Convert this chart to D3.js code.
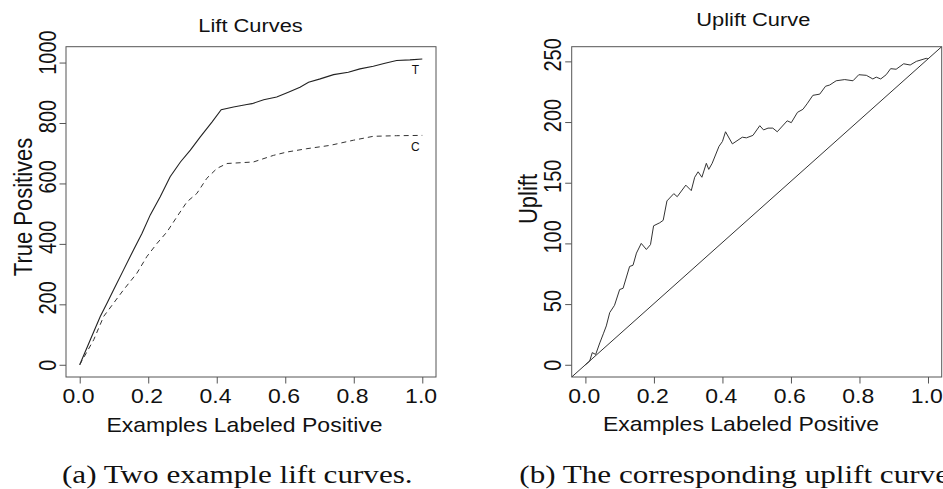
<!DOCTYPE html>
<html>
<head>
<meta charset="utf-8">
<script src="https://cdn.jsdelivr.net/npm/d3@7"></script>
<style>
  body { margin: 0; background: #fff; }
  svg { display: block; }
</style>
</head>
<body>
<svg width="943" height="489"></svg>
<script>
// tick values
var xTicks = [0, 0.2, 0.4, 0.6, 0.8, 1.0];
var liftTicks = [0, 200, 400, 600, 800, 1000];
var upliftTicks = [0, 50, 100, 150, 200, 250];

// lift curve, treatment group (fraction labeled positive, true positives)
var liftT = [[0,0],[0.031,83],[0.06,160],[0.08,204],[0.099,248],[0.128,314],[0.157,380],
  [0.182,435],[0.206,496],[0.235,556],[0.264,622],[0.294,671],[0.323,710],[0.352,754],
  [0.386,803],[0.413,844],[0.449,853],[0.488,861],[0.503,864],[0.537,877],[0.575,886],
  [0.609,902],[0.643,918],[0.668,935],[0.702,946],[0.741,960],[0.784,968],[0.818,979],
  [0.857,988],[0.891,998],[0.925,1007],[0.964,1009],[1.0,1012]];

// lift curve, control group
var liftC = [[0,0],[0.041,83],[0.07,160],[0.099,204],[0.128,248],[0.167,303],[0.196,358],
  [0.226,402],[0.255,440],[0.284,490],[0.313,539],[0.342,567],[0.371,617],[0.401,650],
  [0.43,666],[0.507,671],[0.566,693],[0.605,704],[0.663,715],[0.731,726],[0.799,743],
  [0.857,756],[0.925,758],[1.0,759]];

// uplift curve
var uplift = [[0,0],[0.0125,3],[0.02,10],[0.03,8.5],[0.042,18],[0.053,26],[0.061,32],
  [0.071,43],[0.085,49],[0.1,62],[0.11,63],[0.129,81],[0.139,82],[0.149,92],[0.163,100],
  [0.178,95],[0.19,99],[0.199,114.5],[0.217,117],[0.227,119],[0.238,135],[0.258,141],
  [0.268,138.5],[0.293,148],[0.309,143.5],[0.319,154.5],[0.329,159],[0.34,154.5],
  [0.353,166],[0.36,161],[0.37,166],[0.39,180],[0.4,184],[0.409,192],[0.429,182],
  [0.458,187.5],[0.47,187],[0.489,189],[0.509,197],[0.52,193.5],[0.533,195],[0.547,195],
  [0.56,192],[0.589,201],[0.601,199.5],[0.619,208],[0.635,210.5],[0.647,215],[0.664,222],
  [0.684,223],[0.701,229.5],[0.713,230.5],[0.732,234],[0.757,235],[0.781,234],[0.798,239],
  [0.82,238.5],[0.839,235.5],[0.849,237],[0.862,235.5],[0.878,239],[0.891,244],
  [0.907,243.5],[0.929,248],[0.948,247],[0.966,250],[0.995,252.5],[1.0,252]];

var font = "'Liberation Sans', Arial, Helvetica, sans-serif";
var sx = 1.15;   // figure was squashed/stretched sideways
var boxTop = 46.7, boxBottom = 377;

var svg = d3.select("svg");

// R style: axis limits padded by 4%
function padded(lo, hi) {
  var r = hi - lo;
  return [lo - 0.04 * r, hi + 0.04 * r];
}

var x1 = d3.scaleLinear().domain(padded(0, 1)).range([66, 436]),
    y1 = d3.scaleLinear().domain(padded(0, d3.max(liftT, function(d) { return d[1]; }))).range([boxBottom, boxTop]);
var x2 = d3.scaleLinear().domain(padded(0, 1)).range([571.7, 941.7]),
    y2 = d3.scaleLinear().domain(padded(0, uplift[uplift.length - 1][1])).range([boxBottom, boxTop]);

function drawAxes(x, y, yTicks) {
  svg.append("g")
      .attr("transform", "translate(0," + boxBottom + ")")
      .attr("font-family", font)
      .call(d3.axisBottom(x).tickValues(xTicks).tickFormat(d3.format(".1f")).tickSize(6.5).tickSizeOuter(0))
      .call(function(g) { g.select(".domain").remove(); })
      .call(function(g) { g.selectAll("line").attr("stroke", "#555"); })
      .selectAll("text")
        .attr("x", -1.5)
        .attr("y", 26)
        .attr("dy", null)
        .attr("fill", "#111")
        .attr("transform", "scale(" + sx + ",1)")
        .style("font-size", "20px");

  // rotated labels; the source drifts longer labels a little upward
  svg.append("g")
      .attr("transform", "translate(" + x.range()[0] + ",0)")
      .attr("font-family", font)
      .call(d3.axisLeft(y).tickValues(yTicks).tickFormat(d3.format("d")).tickSize(6.5).tickSizeOuter(0))
      .call(function(g) { g.select(".domain").remove(); })
      .call(function(g) { g.selectAll("line").attr("stroke", "#555"); })
      .selectAll("text")
        .attr("x", function(d) { return (String(d).length - 1) * 3.5; })
        .attr("y", -10.5 / sx)
        .attr("dy", null)
        .attr("fill", "#111")
        .attr("text-anchor", "middle")
        .attr("transform", "scale(" + sx + ",1) rotate(-90)")
        .style("font-size", "20px");

  svg.append("rect")
      .attr("x", x.range()[0])
      .attr("y", boxTop)
      .attr("width", x.range()[1] - x.range()[0])
      .attr("height", boxBottom - boxTop)
      .attr("fill", "none")
      .attr("stroke", "#555")
      .attr("stroke-width", 1);
}

function label(txt, px, py, size, rot, anchor) {
  svg.append("text")
      .attr("transform", "translate(" + px + "," + py + ") scale(" + sx + ",1)" + (rot ? " rotate(-90)" : ""))
      .attr("text-anchor", anchor || "middle")
      .attr("font-family", font)
      .attr("font-size", size)
      .attr("fill", "#111")
      .text(txt);
}

drawAxes(x1, y1, liftTicks);
drawAxes(x2, y2, upliftTicks);

var line1 = d3.line()
    .x(function(d) { return x1(d[0]); })
    .y(function(d) { return y1(d[1]); });
var line2 = d3.line()
    .x(function(d) { return x2(d[0]); })
    .y(function(d) { return y2(d[1]); });

svg.append("path")
    .datum(liftT)
    .attr("d", line1)
    .attr("fill", "none")
    .attr("stroke", "#222")
    .attr("stroke-width", 1.1);

svg.append("path")
    .datum(liftC)
    .attr("d", line1)
    .attr("fill", "none")
    .attr("stroke", "#333")
    .attr("stroke-width", 1)
    .attr("stroke-dasharray", "5,4");

// T / C tags near curve ends
svg.append("text")
    .attr("x", x1(0.98)).attr("y", y1(975)).attr("dy", "0.35em")
    .attr("text-anchor", "middle").attr("font-family", font).attr("font-size", 12)
    .attr("fill", "#111").text("T");
svg.append("text")
    .attr("x", x1(0.98)).attr("y", y1(721)).attr("dy", "0.35em")
    .attr("text-anchor", "middle").attr("font-family", font).attr("font-size", 12)
    .attr("fill", "#111").text("C");

// uplift panel
svg.append("clipPath")
    .attr("id", "clip2")
  .append("rect")
    .attr("x", x2.range()[0])
    .attr("y", boxTop)
    .attr("width", x2.range()[1] - x2.range()[0])
    .attr("height", boxBottom - boxTop);

var slope = uplift[uplift.length - 1][1];
var diag = x2.domain().map(function(v) { return [v, v * slope]; });

svg.append("path")
    .datum(diag)
    .attr("d", line2)
    .attr("clip-path", "url(#clip2)")
    .attr("fill", "none")
    .attr("stroke", "#333")
    .attr("stroke-width", 1);

svg.append("path")
    .datum(uplift)
    .attr("d", line2)
    .attr("clip-path", "url(#clip2)")
    .attr("fill", "none")
    .attr("stroke", "#333")
    .attr("stroke-width", 1);

// titles and axis labels
label("Lift Curves", 250.5, 31.7, 19);
label("Uplift Curve", 753.3, 26, 19);
label("Examples Labeled Positive", 244.5, 432.3, 20);
label("Examples Labeled Positive", 741, 430.7, 20);
label("True Positives", 32.3, 207, 22, true);
label("Uplift", 536.5, 199, 22, true);

// subfigure captions (the right one runs off the page, as in the source figure)
svg.selectAll("text.caption")
    .data([["(a) Two example lift curves.", 62], ["(b) The corresponding uplift curve.", 519.3]])
  .enter().append("text")
    .attr("class", "caption")
    .attr("transform", function(d) { return "translate(" + d[1] + ",483) scale(1.27,1)"; })
    .attr("font-family", "'Liberation Serif', 'Times New Roman', serif")
    .attr("font-size", 24.5)
    .attr("fill", "#111")
    .text(function(d) { return d[0]; });
</script>
</body>
</html>
